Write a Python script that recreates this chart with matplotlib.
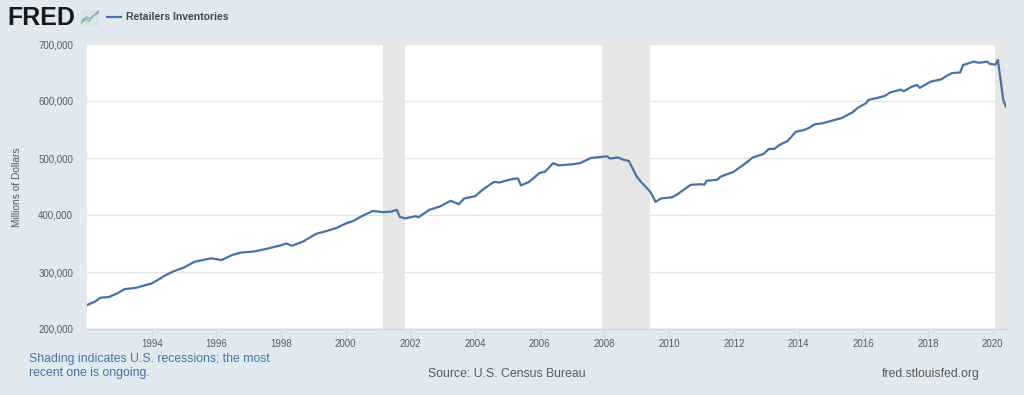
import matplotlib
matplotlib.use("Agg")
import matplotlib.pyplot as plt
import matplotlib.dates as mdates
import matplotlib.ticker as mticker
import pandas as pd

# ---- data ----
dates = ["1992-01", "1992-04", "1992-06", "1992-09", "1992-12", "1993-03", "1993-07", "1993-10",
         "1994-01", "1994-04", "1994-06", "1994-09", "1995-01", "1995-05", "1995-08", "1995-11",
         "1996-03", "1996-07", "1996-10", "1997-03", "1997-08", "1998-01", "1998-03", "1998-05",
         "1998-09", "1999-02", "1999-06", "1999-10", "2000-01", "2000-04", "2000-07", "2000-11",
         "2001-03", "2001-06", "2001-08", "2001-09", "2001-11", "2002-03", "2002-04", "2002-08",
         "2002-12", "2003-04", "2003-05", "2003-07", "2003-09", "2004-01", "2004-04", "2004-08",
         "2004-10", "2005-01", "2005-04", "2005-05", "2005-06", "2005-09", "2006-01", "2006-03",
         "2006-06", "2006-08", "2007-01", "2007-04", "2007-08", "2008-02", "2008-03", "2008-06",
         "2008-08", "2008-10", "2009-01", "2009-03", "2009-06", "2009-08", "2009-10", "2010-02",
         "2010-04", "2010-09", "2011-01", "2011-02", "2011-03", "2011-07", "2011-08", "2012-01",
         "2012-06", "2012-08", "2012-12", "2013-02", "2013-04", "2013-06", "2013-09", "2013-12",
         "2014-03", "2014-05", "2014-07", "2014-10", "2015-01", "2015-05", "2015-09", "2015-11",
         "2016-02", "2016-03", "2016-06", "2016-09", "2016-11", "2017-03", "2017-04", "2017-07",
         "2017-09", "2017-10", "2018-02", "2018-06", "2018-08", "2018-10", "2019-01", "2019-02",
         "2019-04", "2019-06", "2019-08", "2019-11", "2019-12", "2020-02", "2020-03", "2020-04",
         "2020-05", "2020-06"]
inventories = [242000, 248000, 255000, 256000, 262000, 270000, 272000, 276000,
               280000, 288000, 294000, 301000, 308000, 318000, 321000, 324000,
               321000, 330000, 334000, 336000, 341000, 347000, 350000, 346000,
               353000, 367000, 372000, 378000, 385000, 390000, 398000, 407000,
               405000, 406000, 409000, 397000, 394000, 398000, 396000, 409000,
               415000, 425000, 423000, 419000, 429000, 433000, 445000, 458000,
               457000, 461000, 464000, 464000, 452000, 458000, 474000, 476000,
               491000, 487000, 489000, 491000, 500000, 503000, 499000, 501000,
               497000, 495000, 467000, 456000, 441000, 423000, 429000, 431000,
               436000, 453000, 454000, 453000, 460000, 462000, 467000, 476000,
               493000, 501000, 507000, 516000, 516000, 523000, 530000, 546000,
               549000, 553000, 559000, 561000, 565000, 570000, 580000, 588000,
               596000, 602000, 605000, 609000, 615000, 620000, 617000, 625000,
               628000, 623000, 634000, 638000, 644000, 649000, 650000, 663000,
               666000, 669000, 667000, 669000, 665000, 664000, 672000, 637000,
               602000, 590000]
recession_starts = ["2001-03-01", "2007-12-01", "2020-02-01"]
recession_ends = ["2001-11-01", "2009-06-01", "2020-06-01"]
tick_years = [1994, 1996, 1998, 2000, 2002, 2004, 2006, 2008, 2010, 2012, 2014, 2016, 2018, 2020]
y_ticks = [200000, 300000, 400000, 500000, 600000, 700000]
series_name = "Retailers Inventories"
y_label = "Millions of Dollars"

# ---- style ----
BG = "#e1e9f0"
LINE = "#4572a7"
TXT = "#595959"
plt.rcParams["font.family"] = ["Liberation Sans", "DejaVu Sans"]

W, H = 1024, 395
fig = plt.figure(figsize=(W / 100, H / 100), dpi=100, facecolor=BG)
ax = fig.add_axes([87 / W, 1 - 329 / H, (1006 - 87) / W, (329 - 44) / H])
ax.set_facecolor("white")

x = pd.to_datetime(dates)
for s, e in zip(recession_starts, recession_ends):
    ax.axvspan(pd.Timestamp(s), pd.Timestamp(e), color="#e6e6e6", lw=0, zorder=1)

ax.plot(x, inventories, color=LINE, lw=1.6, zorder=3, solid_joinstyle="round")

ax.set_xlim(pd.Timestamp("1992-01-01"), pd.Timestamp("2020-06-01"))
ax.set_ylim(200000, 700000)
ax.set_yticks(y_ticks)
ax.yaxis.set_major_formatter(mticker.FuncFormatter(lambda v, p: f"{v:,.0f}"))
ax.set_xticks([pd.Timestamp(f"{y}-01-01") for y in tick_years])
ax.xaxis.set_major_formatter(mdates.DateFormatter("%Y"))

ax.grid(axis="y", color="#e6e6e6", lw=1, zorder=0)
ax.grid(axis="x", visible=False)
for side in ["top", "right", "left"]:
    ax.spines[side].set_visible(False)
ax.spines["bottom"].set_color("#ccd6eb")
ax.spines["bottom"].set_linewidth(1)
ax.tick_params(axis="y", length=0, pad=10, labelsize=7, labelcolor=TXT)
ax.tick_params(axis="x", length=6, width=0.8, color="#ccd6eb", pad=1, labelsize=7, labelcolor=TXT)

fig.text(17 / W, 1 - 187 / H, y_label, rotation=90, ha="center", va="center", fontsize=7.3, color=TXT)

# header: logo + legend
fig.text(7 / W, 1 - 18 / H, "FRED", fontsize=18, fontweight="bold", color="#1a1a1a",
         ha="left", va="center")
icon = fig.add_axes([81 / W, 1 - 26 / H, 18 / W, 16 / H])
icon.set_facecolor("#d9e2ea")
icon.plot([0, 0.25, 0.45, 0.65, 1.0], [0.15, 0.45, 0.3, 0.6, 0.85], color="#8fc04f", lw=0.9)
icon.plot([0, 0.3, 0.5, 0.75, 1.0], [0.3, 0.55, 0.45, 0.7, 0.95], color="#7ea6d3", lw=0.9)
icon.set_xlim(0, 1); icon.set_ylim(0, 1)
icon.set_xticks([]); icon.set_yticks([])
for sp in icon.spines.values():
    sp.set_visible(False)

fig.add_artist(plt.Line2D([107 / W, 121 / W], [1 - 17 / H, 1 - 17 / H], color=LINE, lw=1.6))
fig.text(126 / W, 1 - 17 / H, series_name, fontsize=7.5, fontweight="bold", color="#444444",
         ha="left", va="center")

# footer
fig.text(29 / W, 1 - 366 / H, "Shading indicates U.S. recessions; the most\nrecent one is ongoing.",
         fontsize=8.8, color="#4572a7", ha="left", va="center", linespacing=1.15)
fig.text(507 / W, 1 - 374 / H, "Source: U.S. Census Bureau", fontsize=8.8, color=TXT,
         ha="center", va="center")
fig.text(931 / W, 1 - 374 / H, "fred.stlouisfed.org", fontsize=8.8, color=TXT,
         ha="center", va="center")

fig.savefig("out.png", dpi=100, facecolor=BG)
